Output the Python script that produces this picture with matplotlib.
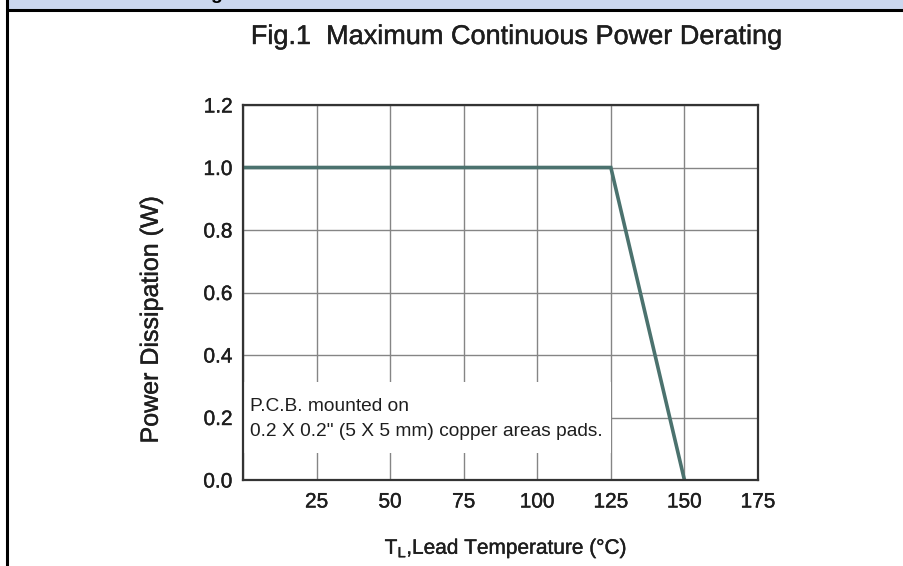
import matplotlib
matplotlib.use("Agg")
import matplotlib.pyplot as plt
import matplotlib.patheffects as pe
from matplotlib.patches import Rectangle
from matplotlib.lines import Line2D

plt.rcParams["font.family"] = ["Liberation Sans", "DejaVu Sans"]

# derating curve: lead temperature (°C) vs power dissipation (W)
temp_c = [0, 125, 150]
power_w = [1.0, 1.0, 0.0]

x_ticks = [25, 50, 75, 100, 125, 150, 175]
y_ticks = [0.0, 0.2, 0.4, 0.6, 0.8, 1.0, 1.2]
x_grid = [0, 25, 50, 75, 100, 125, 150, 175]

note_lines = ["P.C.B. mounted on", "0.2 X 0.2\" (5 X 5 mm) copper areas pads."]

line_color = "#4b726e"
grid_color = "#858585"
text_color = "#1e1e1e"
heavy = [pe.withStroke(linewidth=0.3, foreground=text_color)]

fig = plt.figure(figsize=(9.04, 5.66), dpi=100)

# page header remnants (blue band, rules)
fig.patches.append(Rectangle((8 / 904, 1 - 9 / 566), 1, 9 / 566, transform=fig.transFigure,
                             facecolor="#cbd7ef", edgecolor="none", zorder=0))
fig.text(216 / 904, 1 + 1 / 566, "g", fontsize=14, fontweight="bold", ha="center",
         va="baseline", color="black", zorder=3)
fig.lines.append(Line2D([8 / 904, 1], [1 - 10 / 566, 1 - 10 / 566], transform=fig.transFigure,
                        color="black", lw=2.2, zorder=5))
fig.lines.append(Line2D([7 / 904, 7 / 904], [0, 1], transform=fig.transFigure,
                        color="black", lw=2.2, zorder=5))

ax = fig.add_axes([243 / 904, 1 - 480 / 566, 515 / 904, 375 / 566])

for xv in x_grid:
    ax.axvline(xv, color=grid_color, lw=1.0, zorder=1)
for yv in y_ticks:
    ax.axhline(yv, color=grid_color, lw=1.0, zorder=1)

# white note panel masks the grid
ax.add_patch(Rectangle((0, 0.072), 125 / 175, 0.19, transform=ax.transAxes,
                       facecolor="white", edgecolor="none", zorder=2))
ax.text(0.013, 0.197, note_lines[0], transform=ax.transAxes, fontsize=13.8,
        color=text_color, va="center", ha="left", zorder=3)
ax.text(0.013, 0.128, note_lines[1], transform=ax.transAxes, fontsize=13.8,
        color=text_color, va="center", ha="left", zorder=3)

ax.plot(temp_c, power_w, color=line_color, lw=2.6, zorder=4, solid_joinstyle="miter")

ax.set_xlim(0, 175)
ax.set_ylim(0, 1.2)
ax.set_xticks(x_ticks)
ax.set_xticklabels([str(v) for v in x_ticks])
ax.set_yticks(y_ticks)
ax.set_yticklabels([f"{v:.1f}" for v in y_ticks])
ax.tick_params(axis="both", length=0, labelsize=15, labelcolor=text_color)
ax.tick_params(axis="x", pad=9)
ax.tick_params(axis="y", pad=7.5)
for lbl in ax.get_xticklabels() + ax.get_yticklabels():
    lbl.set_path_effects(heavy)
for sp in ax.spines.values():
    sp.set_color("#333333")
    sp.set_linewidth(1.6)
    sp.set_zorder(6)

ax.set_xlabel("T$_\\mathregular{L}$,Lead Temperature (°C)", fontsize=15, color=text_color,
              va="center", path_effects=heavy)
ax.xaxis.set_label_coords(0.511, -0.181)
ax.set_ylabel("Power Dissipation (W)", fontsize=18, color=text_color, va="center",
              path_effects=heavy)
ax.yaxis.set_label_coords(-0.179, 0.427)

fig.text(517 / 904, 1 - 37 / 566, "Fig.1  Maximum Continuous Power Derating",
         fontsize=19.5, ha="center", va="center", color=text_color, path_effects=heavy)

fig.savefig("out.png", dpi=100)
